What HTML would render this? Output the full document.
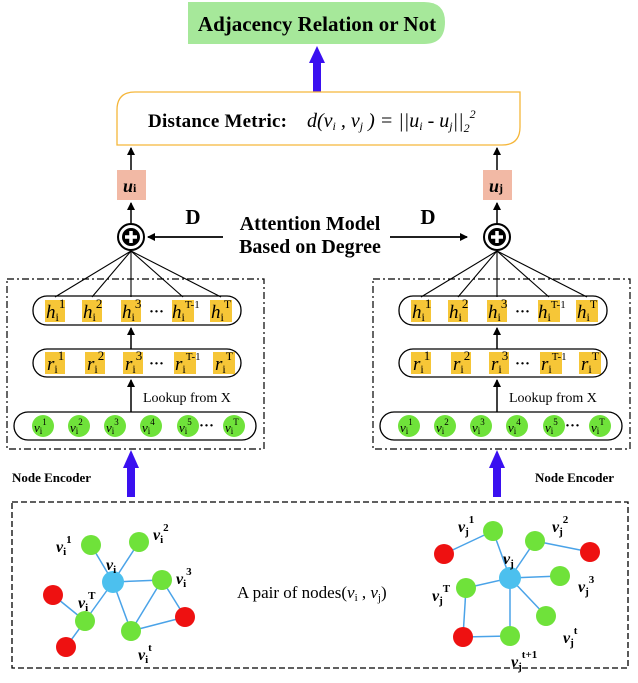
<!DOCTYPE html>
<html><head><meta charset="utf-8"><style>
html,body{margin:0;padding:0;background:#fff;}
svg{display:block;font-family:"Liberation Serif",serif;}
.b{font-weight:bold;}
.it{font-style:italic;}
</style></head><body>
<svg width="638" height="683" viewBox="0 0 638 683" xmlns="http://www.w3.org/2000/svg">
<defs>
<marker id="ah" markerWidth="8" markerHeight="8" refX="7" refY="4" orient="auto" markerUnits="userSpaceOnUse"><path d="M0,0 L8,4 L0,8 Z" fill="#000"/></marker>
</defs>
<!-- top green box -->
<path d="M188,2 H424 Q445,2 445,22 Q445,44 424,44 H188 Z" fill="#a6e89a"/>
<text x="317" y="31" text-anchor="middle" class="b" font-size="21">Adjacency Relation or Not</text>
<!-- blue arrow -->
<rect x="313" y="62" width="8" height="30" fill="#3a10f0"/>
<path d="M309,63 L317,46 L325,63 Z" fill="#3a10f0"/>
<!-- distance box -->
<path d="M135,92 H520 V127 Q520,145 502,145 H117 V110 Q117,92 135,92 Z" fill="#fff" stroke="#f5b63a" stroke-width="1.3"/>
<text x="148" y="127" class="b" font-size="19" textLength="139">Distance Metric:</text>
<text x="307" y="127" class="it" font-size="20">d(v<tspan font-size="12" dy="3">i</tspan><tspan dy="-3"> , v</tspan><tspan font-size="12" dy="3">j</tspan><tspan dy="-3"> ) = ||u</tspan><tspan font-size="12" dy="3">i</tspan><tspan dy="-3">  - u</tspan><tspan font-size="12" dy="3">j</tspan><tspan dy="-3">||</tspan><tspan font-size="12" dy="5">2</tspan><tspan font-size="12" dy="-14">2</tspan></text>
<!-- u boxes -->
<line x1="131" y1="170" x2="131" y2="148" stroke="#000" stroke-width="1.5" marker-end="url(#ah)"/>
<line x1="497" y1="170" x2="497" y2="148" stroke="#000" stroke-width="1.5" marker-end="url(#ah)"/>
<rect x="117" y="170" width="29" height="30" fill="#f2b9a5"/>
<rect x="483" y="170" width="29" height="30" fill="#f2b9a5"/>
<text x="123" y="192" class="b it" font-size="18">u<tspan font-size="12" font-style="normal">i</tspan></text>
<text x="489" y="192" class="b it" font-size="18">u<tspan font-size="12" font-style="normal">j</tspan></text>
<line x1="131" y1="224" x2="131" y2="203" stroke="#000" stroke-width="1.5" marker-end="url(#ah)"/>
<line x1="497" y1="224" x2="497" y2="203" stroke="#000" stroke-width="1.5" marker-end="url(#ah)"/>
<!-- plus circles -->
<g stroke="#000" stroke-width="2" fill="#fff">
<circle cx="131" cy="237" r="13"/><circle cx="497" cy="237" r="13"/></g>
<g fill="#000"><circle cx="131" cy="237" r="9"/><circle cx="497" cy="237" r="9"/></g>
<g stroke="#fff" stroke-width="3.5"><line x1="125" y1="237" x2="137" y2="237"/><line x1="131" y1="231" x2="131" y2="243"/><line x1="491" y1="237" x2="503" y2="237"/><line x1="497" y1="231" x2="497" y2="243"/></g>
<!-- attention -->
<text x="310" y="230" text-anchor="middle" class="b" font-size="20">Attention Model</text>
<text x="310" y="253" text-anchor="middle" class="b" font-size="20">Based on Degree</text>
<text x="193" y="224" text-anchor="middle" class="b" font-size="21">D</text>
<text x="428" y="224" text-anchor="middle" class="b" font-size="21">D</text>
<line x1="223" y1="237" x2="148" y2="237" stroke="#000" stroke-width="1.8" marker-end="url(#ah)"/>
<line x1="390" y1="237" x2="467" y2="237" stroke="#000" stroke-width="1.8" marker-end="url(#ah)"/>

<!-- LEFT PANEL -->
<g id="panelL">
<rect x="7" y="279" width="257" height="170" fill="none" stroke="#000" stroke-width="1.2" stroke-dasharray="7,3,2,3"/>
<g stroke="#000" stroke-width="1.1">
<line x1="55" y1="297" x2="131" y2="251"/><line x1="92" y1="297" x2="131" y2="251"/><line x1="131" y1="297" x2="131" y2="251"/><line x1="183" y1="297" x2="131" y2="251"/><line x1="221" y1="297" x2="131" y2="251"/></g>
<rect x="33" y="296" width="208" height="29" rx="14" fill="none" stroke="#000" stroke-width="1.3"/>
<g fill="#f6c637"><rect x="45" y="300" width="20" height="22"/><rect x="82" y="300" width="20" height="22"/><rect x="121" y="300" width="20" height="22"/><rect x="172" y="300" width="22" height="22"/><rect x="210" y="300" width="22" height="22"/></g>
<g class="it" font-size="19"><text x="46" y="318">h<tspan font-style="normal" font-size="12" dy="3">i</tspan><tspan font-style="normal" font-size="13" dy="-13">1</tspan></text>
<text x="83" y="318">h<tspan font-style="normal" font-size="12" dy="3">i</tspan><tspan font-style="normal" font-size="13" dy="-13">2</tspan></text>
<text x="122" y="318">h<tspan font-style="normal" font-size="12" dy="3">i</tspan><tspan font-style="normal" font-size="13" dy="-13">3</tspan></text>
<text x="172" y="318">h<tspan font-style="normal" font-size="12" dy="3">i</tspan><tspan font-style="normal" font-size="11" dy="-13">T-1</tspan></text>
<text x="211" y="318">h<tspan font-style="normal" font-size="12" dy="3">i</tspan><tspan font-style="normal" font-size="12" dy="-13">T</tspan></text></g>
<text x="149" y="316" font-size="15" class="b">···</text>
<line x1="131" y1="349" x2="131" y2="328" stroke="#000" stroke-width="1.5" marker-end="url(#ah)"/>
<rect x="33" y="349" width="208" height="28" rx="14" fill="none" stroke="#000" stroke-width="1.3"/>
<g fill="#f6c637"><rect x="45" y="352" width="20" height="22"/><rect x="85" y="352" width="20" height="22"/><rect x="123" y="352" width="20" height="22"/><rect x="174" y="352" width="22" height="22"/><rect x="213" y="352" width="22" height="22"/></g>
<g class="it" font-size="19"><text x="47" y="370">r<tspan font-style="normal" font-size="12" dy="3">i</tspan><tspan font-style="normal" font-size="13" dy="-13">1</tspan></text>
<text x="87" y="370">r<tspan font-style="normal" font-size="12" dy="3">i</tspan><tspan font-style="normal" font-size="13" dy="-13">2</tspan></text>
<text x="125" y="370">r<tspan font-style="normal" font-size="12" dy="3">i</tspan><tspan font-style="normal" font-size="13" dy="-13">3</tspan></text>
<text x="175" y="370">r<tspan font-style="normal" font-size="12" dy="3">i</tspan><tspan font-style="normal" font-size="11" dy="-13">T-1</tspan></text>
<text x="215" y="370">r<tspan font-style="normal" font-size="12" dy="3">i</tspan><tspan font-style="normal" font-size="12" dy="-13">T</tspan></text></g>
<text x="149" y="368" font-size="15" class="b">···</text>
<line x1="131" y1="412" x2="131" y2="380" stroke="#000" stroke-width="1.5" marker-end="url(#ah)"/>
<text x="143" y="402" font-size="14">Lookup from X</text>
<rect x="14" y="412" width="242" height="28" rx="14" fill="none" stroke="#000" stroke-width="1.3"/>
<g fill="#6fe23a"><circle cx="43" cy="426" r="11"/><circle cx="79" cy="426" r="11"/><circle cx="115" cy="426" r="11"/><circle cx="151" cy="426" r="11"/><circle cx="188" cy="426" r="11"/><circle cx="234" cy="426" r="11"/></g>
<g class="it" font-size="13"><text x="34" y="432">v<tspan font-style="normal" font-size="9" dy="2">i</tspan><tspan font-style="normal" font-size="9" dy="-9">1</tspan></text>
<text x="70" y="432">v<tspan font-style="normal" font-size="9" dy="2">i</tspan><tspan font-style="normal" font-size="9" dy="-9">2</tspan></text>
<text x="106" y="432">v<tspan font-style="normal" font-size="9" dy="2">i</tspan><tspan font-style="normal" font-size="9" dy="-9">3</tspan></text>
<text x="142" y="432">v<tspan font-style="normal" font-size="9" dy="2">i</tspan><tspan font-style="normal" font-size="9" dy="-9">4</tspan></text>
<text x="179" y="432">v<tspan font-style="normal" font-size="9" dy="2">i</tspan><tspan font-style="normal" font-size="9" dy="-9">5</tspan></text>
<text x="225" y="432">v<tspan font-style="normal" font-size="9" dy="2">i</tspan><tspan font-style="normal" font-size="9" dy="-9">T</tspan></text></g>
<text x="199" y="430" font-size="15" class="b">···</text>
</g>
<use href="#panelL" x="366" y="0"/>

<!-- node encoder arrows -->
<rect x="127" y="467" width="8" height="30" fill="#3a10f0"/><path d="M123,468 L131,450 L139,468 Z" fill="#3a10f0"/>
<rect x="493" y="467" width="8" height="30" fill="#3a10f0"/><path d="M489,468 L497,450 L505,468 Z" fill="#3a10f0"/>
<text x="12" y="482" class="b" font-size="13">Node Encoder</text>
<text x="535" y="482" class="b" font-size="13">Node Encoder</text>

<!-- bottom box -->
<rect x="12" y="502" width="616" height="166" fill="none" stroke="#000" stroke-width="1.3" stroke-dasharray="6,3"/>
<text x="237" y="598" font-size="17">A pair of nodes(<tspan class="it">v</tspan><tspan font-size="11" dy="3">i</tspan><tspan dy="-3"> , </tspan><tspan class="it">v</tspan><tspan font-size="11" dy="3">j</tspan><tspan dy="-3">)</tspan></text>

<!-- graphs -->
<g stroke="#4aa3e8" stroke-width="1.5">
<line x1="113" y1="582" x2="91" y2="545"/><line x1="113" y1="582" x2="139" y2="542"/><line x1="113" y1="582" x2="162" y2="580"/><line x1="113" y1="582" x2="85" y2="621"/><line x1="113" y1="582" x2="131" y2="631"/><line x1="162" y1="580" x2="131" y2="631"/><line x1="162" y1="580" x2="185" y2="617"/><line x1="131" y1="631" x2="185" y2="617"/><line x1="85" y1="621" x2="53" y2="595"/><line x1="85" y1="621" x2="66" y2="647"/>
<line x1="510" y1="578" x2="493" y2="531"/><line x1="493" y1="531" x2="444" y2="554"/><line x1="510" y1="578" x2="535" y2="541"/><line x1="535" y1="541" x2="590" y2="552"/><line x1="510" y1="578" x2="560" y2="576"/><line x1="510" y1="578" x2="466" y2="588"/><line x1="510" y1="578" x2="546" y2="616"/><line x1="510" y1="578" x2="510" y2="636"/><line x1="466" y1="588" x2="463" y2="637"/><line x1="463" y1="637" x2="510" y2="636"/>
</g>
<g fill="#6fe23a"><circle cx="91" cy="545" r="10"/><circle cx="139" cy="542" r="10"/><circle cx="162" cy="580" r="10"/><circle cx="131" cy="631" r="10"/><circle cx="85" cy="621" r="10"/>
<circle cx="493" cy="531" r="10"/><circle cx="535" cy="541" r="10"/><circle cx="560" cy="576" r="10"/><circle cx="466" cy="588" r="10"/><circle cx="546" cy="616" r="10"/><circle cx="510" cy="636" r="10"/></g>
<g fill="#ee1111"><circle cx="185" cy="617" r="10"/><circle cx="53" cy="595" r="10"/><circle cx="66" cy="647" r="10"/>
<circle cx="590" cy="552" r="10"/><circle cx="444" cy="554" r="10"/><circle cx="463" cy="637" r="10"/></g>
<g fill="#4cc0ee"><circle cx="113" cy="582" r="11"/><circle cx="510" cy="578" r="11"/></g>
<g class="it b" font-size="16">
<text x="56" y="552">v<tspan font-style="normal" font-size="11" dy="3">i</tspan><tspan font-style="normal" font-size="11" dy="-12">1</tspan></text>
<text x="153" y="540">v<tspan font-style="normal" font-size="11" dy="3">i</tspan><tspan font-style="normal" font-size="11" dy="-12">2</tspan></text>
<text x="106" y="570">v<tspan font-style="normal" font-size="11" dy="3">i</tspan></text>
<text x="176" y="584">v<tspan font-style="normal" font-size="11" dy="3">i</tspan><tspan font-style="normal" font-size="11" dy="-12">3</tspan></text>
<text x="78" y="608">v<tspan font-style="normal" font-size="11" dy="3">i</tspan><tspan font-style="normal" font-size="11" dy="-12">T</tspan></text>
<text x="138" y="660">v<tspan font-style="normal" font-size="11" dy="3">i</tspan><tspan font-style="normal" font-size="11" dy="-12">t</tspan></text>
<text x="458" y="532">v<tspan font-style="normal" font-size="11" dy="3">j</tspan><tspan font-style="normal" font-size="11" dy="-12">1</tspan></text>
<text x="552" y="532">v<tspan font-style="normal" font-size="11" dy="3">j</tspan><tspan font-style="normal" font-size="11" dy="-12">2</tspan></text>
<text x="503" y="564">v<tspan font-style="normal" font-size="11" dy="3">j</tspan></text>
<text x="578" y="592">v<tspan font-style="normal" font-size="11" dy="3">j</tspan><tspan font-style="normal" font-size="11" dy="-12">3</tspan></text>
<text x="432" y="601">v<tspan font-style="normal" font-size="11" dy="3">j</tspan><tspan font-style="normal" font-size="11" dy="-12">T</tspan></text>
<text x="563" y="643">v<tspan font-style="normal" font-size="11" dy="3">j</tspan><tspan font-style="normal" font-size="11" dy="-12">t</tspan></text>
<text x="511" y="667">v<tspan font-style="normal" font-size="11" dy="3">j</tspan><tspan font-style="normal" font-size="11" dy="-12">t+1</tspan></text>
</g>
</svg>
</body></html>
